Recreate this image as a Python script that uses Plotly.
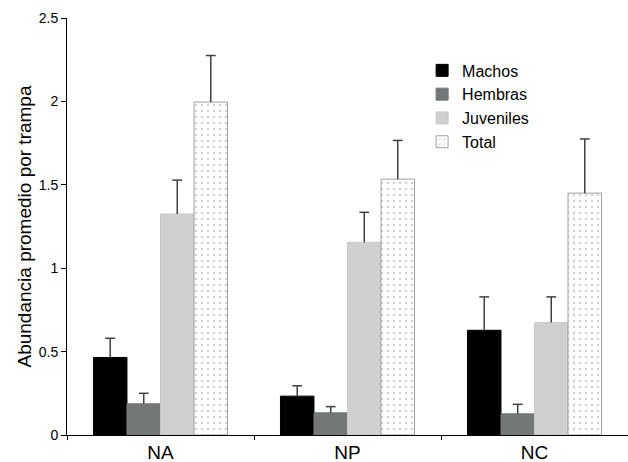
import plotly.graph_objects as go

categories = ["NA", "NP", "NC"]
series_names = ["Machos", "Hembras", "Juveniles", "Total"]
machos = [0.465, 0.233, 0.628]
hembras = [0.187, 0.133, 0.127]
juveniles = [1.325, 1.155, 0.674]
total = [1.996, 1.534, 1.450]
machos_err = [0.115, 0.062, 0.200]
hembras_err = [0.063, 0.037, 0.057]
juveniles_err = [0.203, 0.180, 0.154]
total_err = [0.279, 0.232, 0.325]
y_ticks = [0, 0.5, 1, 1.5, 2, 2.5]
y_tick_labels = ["0", "0.5", "1", "1.5", "2", "2.5"]

values = [machos, hembras, juveniles, total]
errors = [machos_err, hembras_err, juveniles_err, total_err]
colors = ["#000000", "#747777", "#d0d0d0", "#ffffff"]
line_colors = ["#000000", "#747777", "#c8c8c8", "#a0a0a0"]
err_color = "#404040"

fig = go.Figure()
for i, name in enumerate(series_names):
    marker = dict(color=colors[i], line=dict(color=line_colors[i], width=1))
    if name == "Total":
        marker["pattern"] = dict(shape=".", fgcolor="#a8a8a8", bgcolor="#ffffff",
                                 size=6, solidity=0.15)
    fig.add_trace(go.Bar(
        name=name, x=categories, y=values[i], marker=marker, offsetgroup=name,
        error_y=dict(type="data", array=errors[i], arrayminus=[0] * 3,
                     symmetric=False, color=err_color, thickness=1.5, width=0),
    ))
# caps on top of error bars only
for i, name in enumerate(series_names):
    tops = [v + e for v, e in zip(values[i], errors[i])]
    fig.add_trace(go.Scatter(
        x=categories, y=tops, mode="markers", offsetgroup=name, showlegend=False,
        hoverinfo="skip",
        marker=dict(symbol="line-ew", size=7, color=err_color,
                    line=dict(color=err_color, width=1.5)),
    ))

fig.update_layout(
    width=628, height=462,
    margin=dict(l=67, r=0, t=18, b=27),
    paper_bgcolor="white", plot_bgcolor="white",
    barmode="group", bargap=0.283, bargroupgap=0,
    scattermode="group", scattergap=0.283,
    font=dict(family="Liberation Sans, Arial, sans-serif", color="#000000"),
    legend=dict(x=0.633, y=0.915, xanchor="left", yanchor="top",
                font=dict(size=16), bgcolor="rgba(0,0,0,0)",
                itemwidth=30, tracegroupgap=0),
    showlegend=True,
)
fig.update_xaxes(
    showline=True, linecolor="#000000", linewidth=1,
    ticks="outside", tickson="boundaries", ticklen=4, tickcolor="#000000",
    tickfont=dict(size=19), showgrid=False, range=[-0.5, 2.5], automargin=False,
)
fig.update_yaxes(
    range=[0, 2.5], tickvals=y_ticks, ticktext=y_tick_labels,
    showline=True, linecolor="#000000", linewidth=1,
    ticks="outside", ticklen=5, tickcolor="#000000",
    tickfont=dict(size=14), showgrid=False, zeroline=False, automargin=False,
    title=dict(text="Abundancia promedio por trampa", font=dict(size=19), standoff=2),
)
fig.write_html(
    "out.html",
    config={"displayModeBar": False},
    post_script="document.body.style.margin='0';document.body.style.overflow='hidden';",
)
